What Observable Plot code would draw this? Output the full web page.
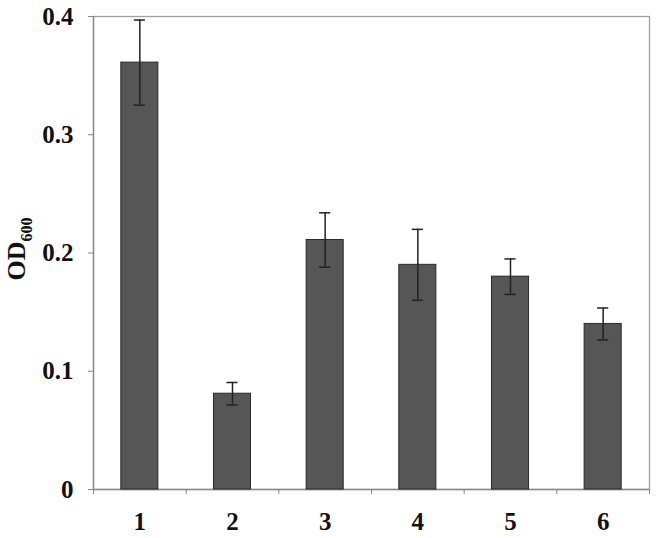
<!DOCTYPE html>
<html>
<head>
<meta charset="utf-8">
<script src="https://cdn.jsdelivr.net/npm/d3@7"></script>
<script src="https://cdn.jsdelivr.net/npm/@observablehq/plot@0.6"></script>
<style>
  body { margin: 0; background: #fff; }
  #chart { width: 656px; height: 538px; }
</style>
</head>
<body>
<div id="chart"></div>
<script>
const categories = ["1", "2", "3", "4", "5", "6"];
const values = [0.361, 0.081, 0.211, 0.190, 0.180, 0.140];
const errors = [0.036, 0.0095, 0.023, 0.030, 0.015, 0.0135];
const yTicks = [0, 0.1, 0.2, 0.3, 0.4];

const data = categories.map((c, i) => ({ cat: c, x: i + 1, v: values[i], e: errors[i] }));
const boundaries = d3.range(0, categories.length + 1).map(i => i + 0.5);

const font = "'Liberation Serif', 'Times New Roman', serif";

const plot = Plot.plot({
  width: 656,
  height: 538,
  marginLeft: 93,
  marginRight: 7,
  marginTop: 16,
  marginBottom: 49,
  style: { fontFamily: font, background: "#fff" },
  x: { domain: [0.5, categories.length + 0.5], axis: null },
  y: { domain: [0, 0.4], axis: null },
  marks: [
    Plot.frame({ stroke: "#a0a0a0", strokeWidth: 1.3 }),
    Plot.axisY(yTicks, {
      tickSize: 5,
      tickPadding: 15,
      stroke: "#888",
      tickFormat: d => d === 0 ? "0" : d.toFixed(1),
      fontSize: 25,
      fontWeight: "bold",
      fill: "#111",
      label: null
    }),
    Plot.axisX(boundaries, {
      tickSize: 5,
      stroke: "#888",
      tickFormat: () => "",
      label: null
    }),
    Plot.axisX(data.map(d => d.x), {
      tickSize: 0,
      tickPadding: 23,
      tickFormat: d => categories[d - 1],
      fontSize: 25,
      fontWeight: "bold",
      fill: "#111",
      label: null
    }),
    Plot.ruleY([0], { stroke: "#888", strokeWidth: 1.3 }),
    Plot.ruleX([0.5], { stroke: "#888", strokeWidth: 1.3 }),
    Plot.rectY(data, {
      x1: d => d.x - 0.2,
      x2: d => d.x + 0.2,
      y: "v",
      fill: "#565656",
      stroke: "#2a2a2a",
      strokeWidth: 1
    }),
    Plot.ruleX(data, {
      x: "x",
      y1: d => d.v - d.e,
      y2: d => d.v + d.e,
      stroke: "#222",
      strokeWidth: 1.5
    }),
    Plot.ruleY(data, {
      y: d => d.v + d.e,
      x1: d => d.x - 0.06,
      x2: d => d.x + 0.06,
      stroke: "#222",
      strokeWidth: 1.5
    }),
    Plot.ruleY(data, {
      y: d => d.v - d.e,
      x1: d => d.x - 0.06,
      x2: d => d.x + 0.06,
      stroke: "#222",
      strokeWidth: 1.5
    })
  ]
});

document.getElementById("chart").appendChild(plot);

// Y-axis label with subscript
const svg = d3.select(plot);
const lbl = svg.append("text")
  .attr("transform", "translate(25, 249) rotate(-90)")
  .attr("text-anchor", "middle")
  .attr("font-family", font)
  .attr("font-weight", "bold")
  .attr("fill", "#111");
lbl.append("tspan").attr("font-size", 26).text("OD");
lbl.append("tspan").attr("font-size", 16).attr("dy", 7).text("600");
</script>
</body>
</html>
